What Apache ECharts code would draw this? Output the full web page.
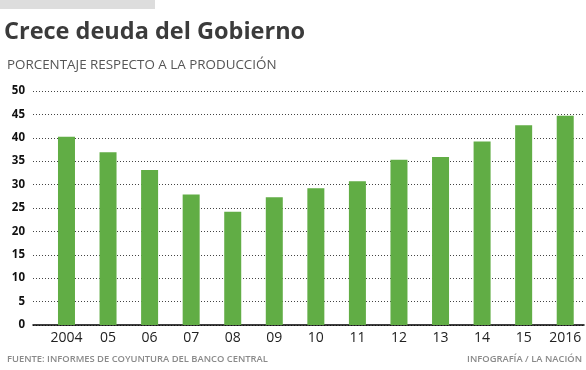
<!DOCTYPE html>
<html>
<head>
<meta charset="utf-8">
<script src="https://cdn.jsdelivr.net/npm/echarts@6/dist/echarts.min.js"></script>
<style>
html,body{margin:0;padding:0;background:#fff;}
#chart{width:586px;height:370px;}
</style>
</head>
<body>
<div id="chart"></div>
<script>
var categories = ['2004','05','06','07','08','09','10','11','12','13','14','15','2016'];
var values = [40.2, 36.9, 33.1, 27.9, 24.2, 27.3, 29.2, 30.7, 35.3, 35.9, 39.2, 42.7, 44.7];
var yMin = 0, yMax = 50, yStep = 5;

var chart = echarts.init(document.getElementById('chart'), null, {renderer:'canvas'});
var FONT = '"Open Sans", "Noto Sans", sans-serif';
chart.setOption({
  animation: false,
  backgroundColor: '#fff',
  graphic: [
    {type:'rect', shape:{x:0,y:0,width:155,height:9}, style:{fill:'#dddddd'}},
    {type:'text', left:4, top:20, style:{text:'Crece deuda del Gobierno', font:'bold 23.5px ' + FONT, fill:'#3b3b3b'}},
    {type:'text', left:7, top:59, style:{text:'PORCENTAJE RESPECTO A LA PRODUCCIÓN', font:'13.4px ' + FONT, fill:'#555'}},
    {type:'text', left:7, top:355, style:{text:'FUENTE: INFORMES DE COYUNTURA DEL BANCO CENTRAL', font:'600 9.4px ' + FONT, fill:'#8a8a8a'}},
    {type:'text', right:4, top:355, style:{text:'INFOGRAFÍA / LA NACIÓN', font:'600 9.4px ' + FONT, fill:'#8a8a8a'}}
  ],
  grid: [
    {left:45.7, right:-8.3, top:91, bottom:45},
    {left:33, right:2, top:91, bottom:45}
  ],
  xAxis: [
    {type:'category', gridIndex:0, data:categories,
     axisLine:{show:false}, axisTick:{show:false},
     axisLabel:{fontFamily:FONT, fontSize:14, color:'#222', margin:6, interval:0}},
    {type:'value', gridIndex:1, min:0, max:1, show:true,
     axisLine:{show:true, lineStyle:{color:'#000', width:1.5}},
     axisTick:{show:false}, axisLabel:{show:false}, splitLine:{show:false}}
  ],
  yAxis: [
    {type:'value', gridIndex:0, min:yMin, max:yMax, interval:yStep, show:false, splitLine:{show:false}},
    {type:'value', gridIndex:1, min:yMin, max:yMax, interval:yStep,
     axisLine:{show:false}, axisTick:{show:false},
     axisLabel:{fontFamily:FONT, fontSize:11.5, fontWeight:'bold', color:'#111', margin:8},
     splitLine:{show:true, lineStyle:{color:'#444', width:1, type:[1,2]}}}
  ],
  series: [{
    type:'bar', xAxisIndex:0, yAxisIndex:0, data:values, barWidth:17,
    itemStyle:{color:'#61ad45'}
  }]
});
</script>
</body>
</html>
